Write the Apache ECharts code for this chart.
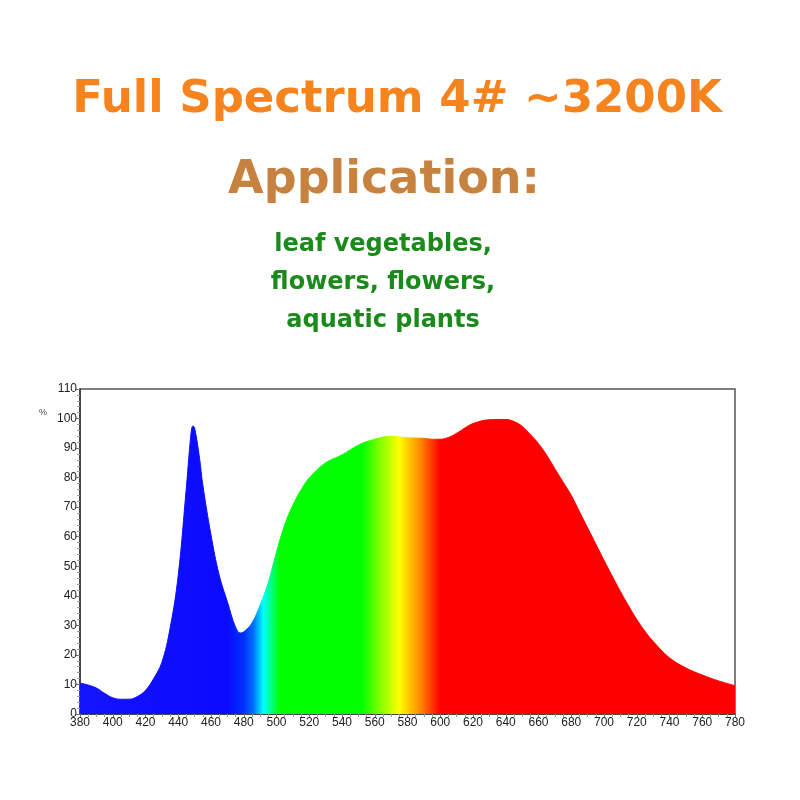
<!DOCTYPE html>
<html>
<head>
<meta charset="utf-8">
<title>Full Spectrum 4# ~3200K</title>
<script src="https://cdn.jsdelivr.net/npm/echarts@6/dist/echarts.min.js"></script>
<style>
  html, body { margin: 0; padding: 0; background: #fff; }
  #chart { width: 800px; height: 800px; }
</style>
</head>
<body>
<div id="chart"></div>
<script>
// spectrum readings (nm, relative %)
const wavelengths = [380, 385, 390, 395, 400, 405, 410, 415, 420, 425, 430, 435, 440, 445, 448, 449, 450, 453, 455, 460,
  465, 470, 475, 478, 480, 485, 490, 495, 500, 505, 510, 515, 520, 530, 540, 550, 560, 570, 575, 580,
  590, 595, 600, 605, 610, 615, 620, 630, 640, 645, 650, 655, 660, 665, 670, 675, 680, 685, 690, 695,
  700, 705, 710, 715, 720, 725, 730, 740, 750, 760, 770, 780];
const intensity = [10.5, 9.8, 8.8, 7, 5.5, 5, 5, 5.9, 8, 12, 17.5, 29, 47, 77, 96, 97.5, 96.8, 86.6, 77.5, 60.6,
  47, 38, 29.4, 27.4, 27.8, 30.8, 36.9, 44.6, 54.8, 64, 70.7, 75.8, 79.9, 85, 87.7, 91, 93, 94, 93.8, 93.5,
  93.3, 93, 93, 93.6, 95, 96.8, 98.3, 99.6, 99.7, 99, 97.4, 94.6, 91.5, 87.6, 83, 78.5, 74, 68.5, 63, 57.5,
  52, 46.7, 41.5, 36.6, 32, 28, 24.6, 19, 15.6, 13.2, 11.2, 9.6];

// colour of the spectrum at a few wavelengths
const bandNm = [380, 470, 480, 486, 492, 502, 552, 563, 575, 587, 600, 780];
const bandColors = ['#1414ff', '#0a0aff', '#0030ff', '#0070ff', '#00ffff', '#00ff00', '#00ff00', '#80ff00',
  '#ffff00', '#ff9000', '#ff0000', '#ff0000'];

const titleText = 'Full Spectrum 4# ~3200K';
const subTitle = 'Application:';
const usageLines = ['leaf vegetables,', 'flowers, flowers,', 'aquatic plants'];

const xMin = 380, xMax = 780;

const chart = echarts.init(document.getElementById('chart'));

const stops = bandNm.map((nm, i) => ({
  offset: (nm - xMin) / (xMax - xMin),
  color: bandColors[i]
}));
const spectrumFill = new echarts.graphic.LinearGradient(0, 0, 1, 0, stops);

const headFont = 'DejaVu Sans, sans-serif';
const axisFont = {
  color: '#222',
  fontSize: 12,
  fontFamily: 'Liberation Sans, Arial, sans-serif'
};

const option = {
  backgroundColor: '#fff',
  animation: false,
  graphic: [
    {
      type: 'text', x: 397, y: 100,
      style: {
        text: titleText, textAlign: 'center', textVerticalAlign: 'middle',
        fill: '#f5841f', fontSize: 45, fontWeight: 'bold', fontFamily: headFont
      }
    },
    {
      type: 'text', x: 384, y: 181,
      style: {
        text: subTitle, textAlign: 'center', textVerticalAlign: 'middle',
        fill: '#c8823f', fontSize: 46, fontWeight: 'bold', fontFamily: headFont
      }
    },
    ...usageLines.map((t, i) => ({
      type: 'text', x: 383, y: 245 + i * 38,
      style: {
        text: t, textAlign: 'center', textVerticalAlign: 'middle',
        fill: '#1a8a1a', fontSize: 24, fontWeight: 'bold', fontFamily: headFont
      }
    })),
    {
      type: 'text', x: 43, y: 413,
      style: {
        text: '%', textAlign: 'center', textVerticalAlign: 'middle',
        fill: '#444', fontSize: 9, fontFamily: 'Liberation Sans, Arial, sans-serif'
      }
    }
  ],
  grid: {
    left: 80,
    right: 65,
    top: 389,
    bottom: 86,
    show: true,
    borderColor: '#555',
    borderWidth: 1.5,
    containLabel: false
  },
  xAxis: {
    type: 'value',
    min: xMin,
    max: xMax,
    interval: 20,
    axisLine: { lineStyle: { color: '#333', width: 1.5 } },
    axisTick: { show: true, length: 4, lineStyle: { color: '#777' } },
    minorTick: { show: true, splitNumber: 4, length: 3, lineStyle: { color: '#999' } },
    axisLabel: Object.assign({ margin: 3 }, axisFont),
    splitLine: { show: false }
  },
  yAxis: {
    type: 'value',
    min: 0,
    max: 110,
    interval: 10,
    axisLine: { show: true, lineStyle: { color: '#333', width: 1.5 } },
    axisTick: { show: true, length: 4, lineStyle: { color: '#777' } },
    minorTick: { show: true, splitNumber: 5, length: 3, lineStyle: { color: '#999' } },
    axisLabel: Object.assign({ margin: 3 }, axisFont),
    splitLine: { show: false }
  },
  series: [
    {
      type: 'line',
      data: wavelengths.map((w, i) => [w, intensity[i]]),
      smooth: 0.4,
      symbol: 'none',
      lineStyle: { width: 1, color: spectrumFill },
      areaStyle: { color: spectrumFill, opacity: 1 }
    }
  ]
};

chart.setOption(option);
</script>
</body>
</html>
